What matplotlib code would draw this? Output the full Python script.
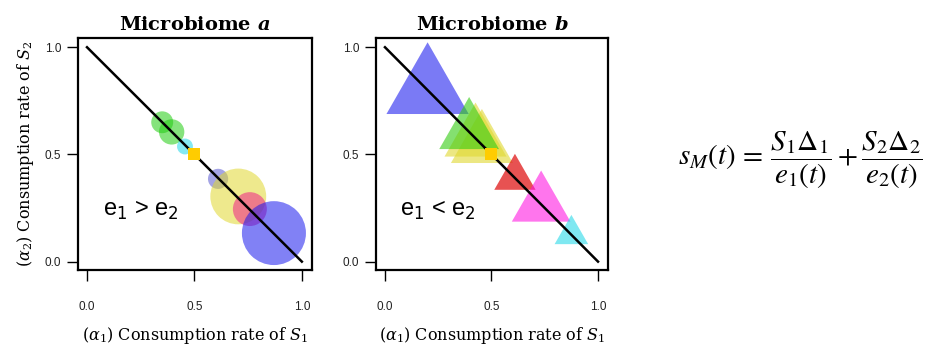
import matplotlib
matplotlib.use("Agg")
import matplotlib.pyplot as plt
from matplotlib.patches import Circle, RegularPolygon

# microbiome a: circles (x, y, radius in data units)
circ_x = [0.35, 0.394, 0.456, 0.61, 0.704, 0.758, 0.87]
circ_y = [0.65, 0.605, 0.537, 0.386, 0.304, 0.245, 0.133]
circ_r = [0.051, 0.059, 0.037, 0.047, 0.13, 0.079, 0.149]
circ_col = ['#22cc11', '#22cc11', '#22d8e8', '#5a5ad0', '#e0d830', '#ee2288', '#1a1aee']

# microbiome b: triangles (x, y, circumradius in data units)
tri_x = [0.20, 0.425, 0.455, 0.395, 0.61, 0.733, 0.875]
tri_y = [0.80, 0.574, 0.544, 0.606, 0.391, 0.266, 0.127]
tri_r = [0.223, 0.168, 0.168, 0.162, 0.112, 0.159, 0.091]
tri_col = ['#1a1aee', '#e0d830', '#e0d830', '#33cc11', '#e01818', '#ff11e0', '#22d8e8']
tri_alpha = [0.58, 0.6, 0.6, 0.6, 0.75, 0.58, 0.58]

ticks = [0.0, 0.5, 1.0]
tick_labels = ['0.0', '0.5', '1.0']
titles = [r'Microbiome $\boldsymbol{a}$', r'Microbiome $\boldsymbol{b}$']
ineq = [r'e$_1$ > e$_2$', r'e$_1$ < e$_2$']

plt.rcParams['mathtext.fontset'] = 'dejavuserif'

fig = plt.figure(figsize=(9.34, 3.52), dpi=100)
ax_a = fig.add_axes([0.0835, 0.233, 0.2505, 0.659])
ax_b = fig.add_axes([0.4026, 0.233, 0.2484, 0.659])


def style_axes(ax, title, text, ylabel):
    ax.set_xlim(-0.042, 1.047)
    ax.set_ylim(-0.039, 1.043)
    ax.plot([0, 1], [1, 0], color='black', lw=1.8, zorder=3)
    ax.scatter([0.5], [0.5], marker='s', s=80, color='#ffcc00', zorder=4, linewidths=0)
    for sp in ax.spines.values():
        sp.set_linewidth(1.6)
    ax.set_xticks(ticks)
    ax.set_xticklabels(tick_labels, fontsize=8.5, family='Liberation Sans', color='#222222')
    ax.set_yticks(ticks)
    ax.set_yticklabels(tick_labels, fontsize=8.5, family='Liberation Sans', color='#222222')
    ax.tick_params(axis='x', length=8, width=1.0, pad=14)
    ax.tick_params(axis='y', length=8, width=1.0, pad=4)
    ax.set_xlabel(r'$(\alpha_1)$ Consumption rate of $S_1$', fontsize=11.5,
                  family='DejaVu Serif', labelpad=9)
    if ylabel:
        ax.set_ylabel(r'$(\alpha_2)$ Consumption rate of $S_2$', fontsize=11.5,
                      family='DejaVu Serif', labelpad=6)
    ax.set_title(title, fontsize=14, fontweight='heavy', family='DejaVu Serif', pad=6)
    ax.text(0.25, 0.24, text, fontsize=17, family='Liberation Sans',
            math_fontfamily='dejavusans', ha='center', va='center')


for x, y, r, c in zip(circ_x, circ_y, circ_r, circ_col):
    ax_a.add_patch(Circle((x, y), r, facecolor=c, edgecolor='none', alpha=0.55, zorder=2))
for x, y, r, c, a in zip(tri_x, tri_y, tri_r, tri_col, tri_alpha):
    ax_b.add_patch(RegularPolygon((x, y), 3, radius=r, facecolor=c, edgecolor='none',
                                  alpha=a, zorder=2))

style_axes(ax_a, titles[0], ineq[0], True)
style_axes(ax_b, titles[1], ineq[1], False)

fig.text(0.857, 0.545,
         r'$s_M(t)\,=\,\dfrac{S_1\Delta_1}{e_1(t)}+\dfrac{S_2\Delta_2}{e_2(t)}$',
         fontsize=21, ha='center', va='center', math_fontfamily='stix')

fig.savefig('out.png', dpi=100)
